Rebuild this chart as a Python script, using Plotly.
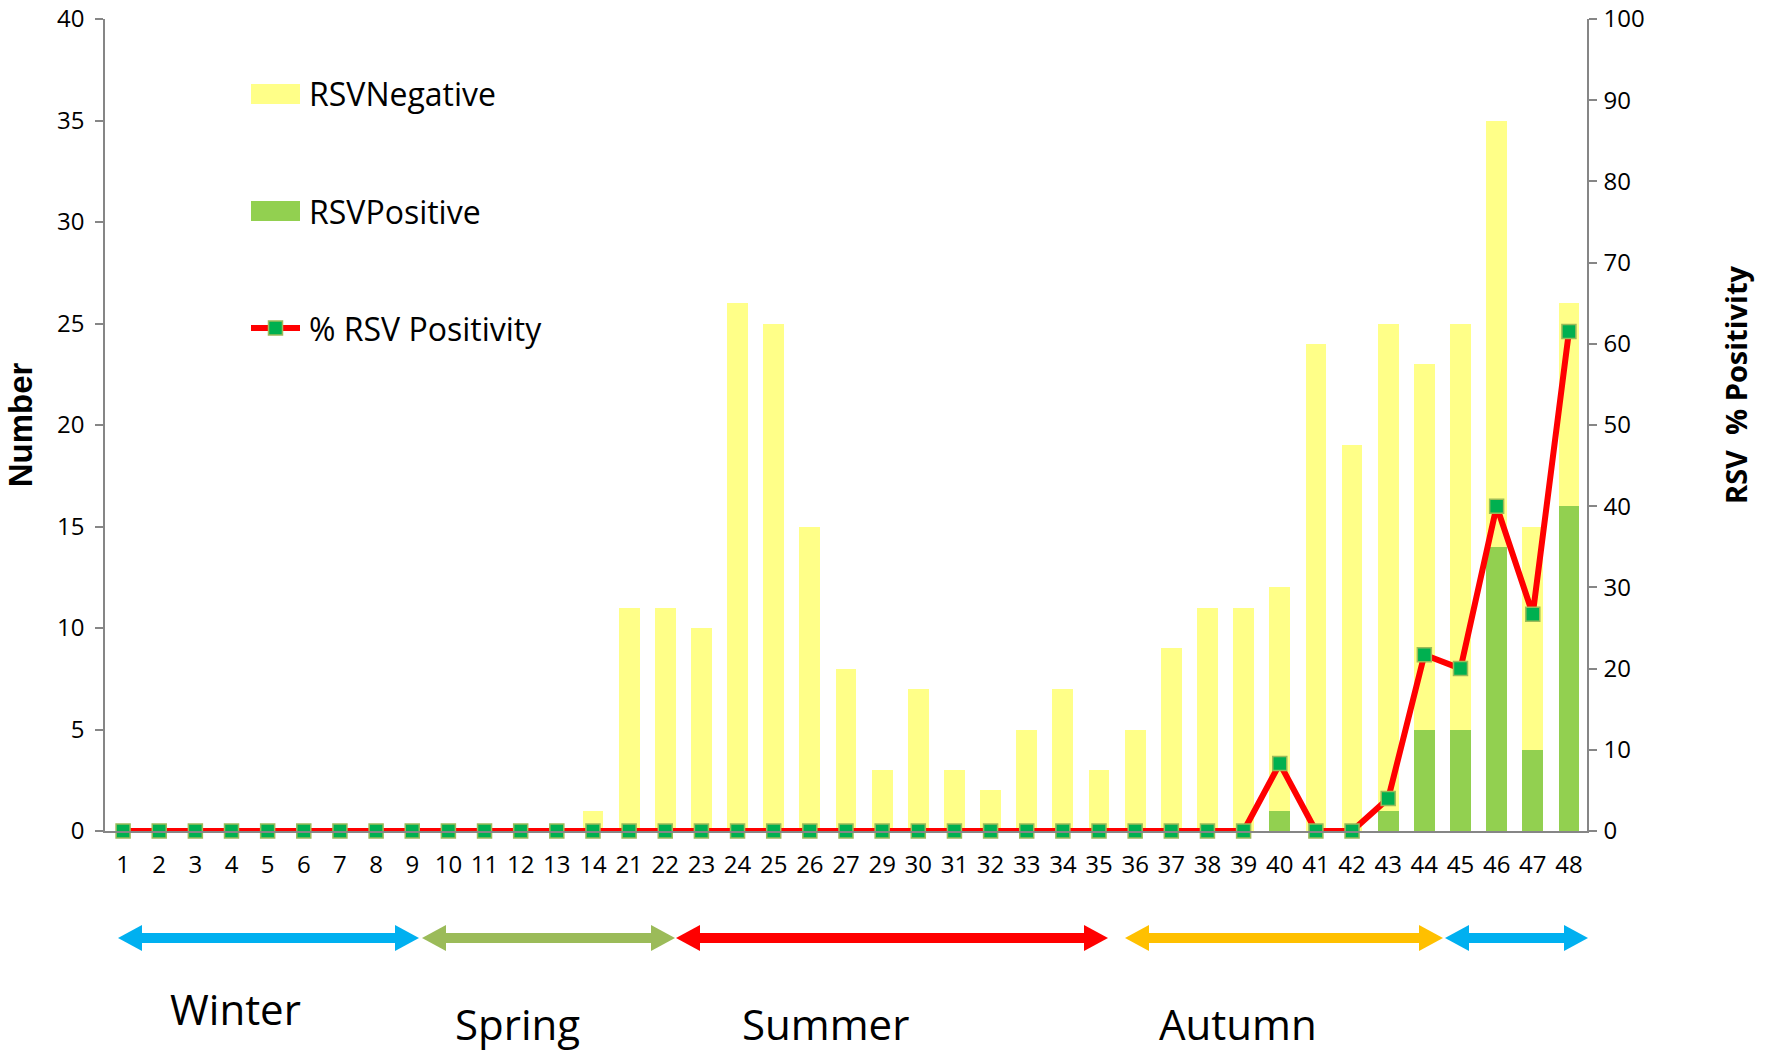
import plotly.graph_objects as go

weeks = ["1", "2", "3", "4", "5", "6", "7", "8", "9", "10", "11", "12", "13", "14",
         "21", "22", "23", "24", "25", "26", "27", "29", "30", "31", "32", "33", "34",
         "35", "36", "37", "38", "39", "40", "41", "42", "43", "44", "45", "46", "47", "48"]
rsv_positive = [0, 0, 0, 0, 0, 0, 0, 0, 0, 0, 0, 0, 0, 0,
                0, 0, 0, 0, 0, 0, 0, 0, 0, 0, 0, 0, 0,
                0, 0, 0, 0, 0, 1, 0, 0, 1, 5, 5, 14, 4, 16]
rsv_negative = [0, 0, 0, 0, 0, 0, 0, 0, 0, 0, 0, 0, 0, 1,
                11, 11, 10, 26, 25, 15, 8, 3, 7, 3, 2, 5, 7,
                3, 5, 9, 11, 11, 11, 24, 19, 24, 18, 20, 21, 11, 10]
pct_positivity = [0, 0, 0, 0, 0, 0, 0, 0, 0, 0, 0, 0, 0, 0,
                  0, 0, 0, 0, 0, 0, 0, 0, 0, 0, 0, 0, 0,
                  0, 0, 0, 0, 0, 8.3, 0, 0, 4.0, 21.7, 20.0, 40.0, 26.7, 61.5]

seasons = ["Winter", "Spring", "Summer", "Autumn", ""]
season_colors = ["#00B0F0", "#9BBB59", "#FF0000", "#FFC000", "#00B0F0"]

YELLOW = "#FFFF88"
GREEN = "#92D050"
RED = "#FF0000"
MARK = "#00B050"
MARK_EDGE = "#9BBB59"
AXIS = "#868686"
FONT = "Open Sans"

W, H = 1773, 1051
L, R, T, B = 105, 1587, 19, 831


def px(x):
    return (x - L) / (R - L)


def py(y):
    return (B - y) / (B - T)


fig = go.Figure()
fig.add_trace(go.Bar(x=weeks, y=rsv_positive, name="RSVPositive",
                     marker=dict(color=GREEN, line=dict(width=0)), showlegend=False))
fig.add_trace(go.Bar(x=weeks, y=rsv_negative, name="RSVNegative",
                     marker=dict(color=YELLOW, line=dict(width=0)), showlegend=False))
fig.add_trace(go.Scatter(x=weeks, y=pct_positivity, name="% RSV Positivity", yaxis="y2",
                         mode="lines+markers", cliponaxis=False,
                         line=dict(color=RED, width=6),
                         marker=dict(symbol="square", size=14, color=MARK,
                                     line=dict(color=MARK_EDGE, width=1.5)),
                         showlegend=False))

shapes = []
annotations = []

# manual legend
leg_x0, leg_x1, leg_tx = 251, 300, 307
leg_rows = [(94, "RSVNegative", "bar", YELLOW), (211, "RSVPositive", "bar", GREEN),
            (328, "% RSV Positivity", "line", RED)]
for yc, label, kind, col in leg_rows:
    if kind == "bar":
        shapes.append(dict(type="rect", xref="paper", yref="paper",
                           x0=px(leg_x0), x1=px(leg_x1), y0=py(yc + 10), y1=py(yc - 10),
                           fillcolor=col, line=dict(width=0)))
    else:
        shapes.append(dict(type="line", xref="paper", yref="paper",
                           x0=px(leg_x0), x1=px(leg_x1), y0=py(yc), y1=py(yc),
                           line=dict(color=col, width=6)))
        xm = (leg_x0 + leg_x1) / 2
        shapes.append(dict(type="rect", xref="paper", yref="paper",
                           x0=px(xm - 7), x1=px(xm + 7), y0=py(yc + 7), y1=py(yc - 7),
                           fillcolor=MARK, line=dict(color=MARK_EDGE, width=1.5)))
    annotations.append(dict(xref="paper", yref="paper", x=px(leg_tx), y=py(yc),
                            xanchor="left", yanchor="middle", showarrow=False,
                            text=label, font=dict(family=FONT, size=32, color="black")))

# season arrows
arrow_spans = [(118, 419), (422, 675), (676, 1108), (1125, 1443), (1445, 1588)]
ay = 938
head_len, head_half, shaft = 24, 13, 10
for (xa, xb), col in zip(arrow_spans, season_colors):
    shapes.append(dict(type="rect", xref="paper", yref="paper",
                       x0=px(xa + head_len - 1), x1=px(xb - head_len + 1),
                       y0=py(ay + shaft / 2), y1=py(ay - shaft / 2),
                       fillcolor=col, line=dict(width=0)))
    left = f"M {px(xa)},{py(ay)} L {px(xa + head_len)},{py(ay - head_half)} L {px(xa + head_len)},{py(ay + head_half)} Z"
    right = f"M {px(xb)},{py(ay)} L {px(xb - head_len)},{py(ay - head_half)} L {px(xb - head_len)},{py(ay + head_half)} Z"
    for p in (left, right):
        shapes.append(dict(type="path", xref="paper", yref="paper", path=p,
                           fillcolor=col, line=dict(width=0)))

# season labels: (center x, bottom of text box)
season_pos = [(235, 1039), (517, 1054), (825, 1054), (1238, 1054)]
for name, (sx, sy) in zip(seasons, season_pos):
    annotations.append(dict(xref="paper", yref="paper", x=px(sx), y=py(sy),
                            xanchor="center", yanchor="bottom", showarrow=False,
                            text=name, font=dict(family=FONT, size=42, color="black")))

# right axis title
annotations.append(dict(xref="paper", yref="paper", x=px(1736), y=py(385),
                        xanchor="center", yanchor="middle", showarrow=False, textangle=-90,
                        text="<b>RSV  % Positivity</b>",
                        font=dict(family=FONT, size=29, color="black")))

fig.update_layout(
    width=W, height=H,
    margin=dict(l=L, r=W - R, t=T, b=H - B, autoexpand=False),
    paper_bgcolor="white", plot_bgcolor="white",
    barmode="stack", bargap=0.425,
    font=dict(family=FONT, size=24, color="black"),
    xaxis=dict(type="category", range=[-0.5, len(weeks) - 0.5],
               showline=True, linecolor=AXIS, linewidth=1.5,
               ticks="", showgrid=False, tickfont=dict(family=FONT, size=24, color="black"),
               ticklabelstandoff=11),
    yaxis=dict(range=[0, 40], dtick=5, showline=True, linecolor=AXIS, linewidth=1.5,
               ticks="outside", ticklen=8, tickcolor=AXIS, tickwidth=1.5,
               showgrid=False, zeroline=False, ticklabelstandoff=6,
               tickfont=dict(family=FONT, size=24, color="black"),
               title=dict(text="<b>Number</b>", standoff=14,
                          font=dict(family="Liberation Sans", size=33, color="black"))),
    yaxis2=dict(range=[0, 100], dtick=10, overlaying="y", side="right",
                showline=True, linecolor=AXIS, linewidth=1.5,
                ticks="outside", ticklen=8, tickcolor=AXIS, tickwidth=1.5,
                showgrid=False, zeroline=False, ticklabelstandoff=2,
                tickfont=dict(family=FONT, size=24, color="black")),
    shapes=shapes, annotations=annotations,
)

fig.write_html("out.html", config={"displayModeBar": False},
               post_script="document.body.style.margin='0px';")
